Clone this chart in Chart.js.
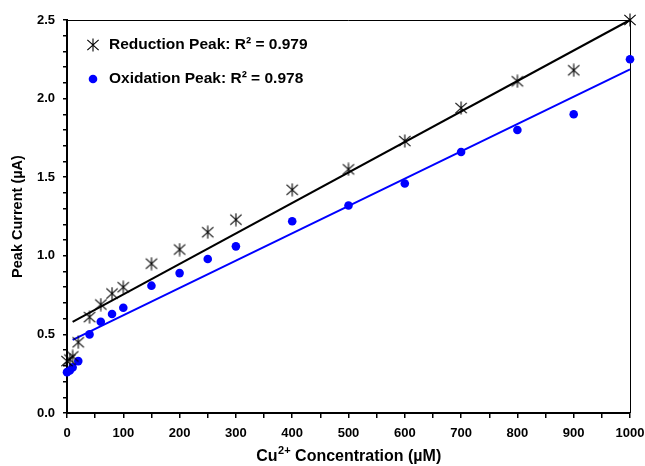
<!DOCTYPE html>
<html>
<head>
<meta charset="utf-8">
<script src="https://cdn.jsdelivr.net/npm/chart.js@4.4.1/dist/chart.umd.min.js"></script>
<style>
  html, body { margin: 0; padding: 0; background: #fff; }
  #wrap { width: 645px; height: 466px; }
</style>
</head>
<body>
<div id="wrap"><canvas id="chart" width="645" height="466"></canvas></div>
<script>
// ------------------- Data -------------------//
var concentrations = [0, 5, 10, 20, 40, 60, 80, 100, 150, 200, 250, 300, 400, 500, 600, 700, 800, 900, 1000];
var reductionPeak = [0.33, 0.34, 0.36, 0.45, 0.61, 0.69, 0.76, 0.80, 0.95, 1.04, 1.15, 1.23, 1.42, 1.55, 1.73, 1.94, 2.11, 2.18, 2.50];
var oxidationPeak = [0.26, 0.27, 0.29, 0.33, 0.50, 0.58, 0.63, 0.67, 0.81, 0.89, 0.98, 1.06, 1.22, 1.32, 1.46, 1.66, 1.80, 1.90, 2.25];

// linear fit end points as drawn on the figure
var fitX = [10, 1000];
var reductionFit = [0.58, 2.50];
var oxidationFit = [0.465, 2.186];

var legendLabels = ['Reduction Peak: R\u00b2 = 0.979', 'Oxidation Peak: R\u00b2 = 0.978'];

function toPoints(xs, ys) {
  return xs.map(function (x, i) { return { x: x, y: ys[i] }; });
}

// six armed asterisk marker
function makeAsterisk(size) {
  var c = document.createElement('canvas');
  c.width = size; c.height = size;
  var g = c.getContext('2d');
  g.strokeStyle = '#000';
  g.lineWidth = 1.1;
  var m = size / 2, r = size / 2 - 0.5;
  g.beginPath();
  g.moveTo(m, m - r); g.lineTo(m, m + r);
  g.moveTo(m - r * 0.87, m - r * 0.8); g.lineTo(m + r * 0.87, m + r * 0.8);
  g.moveTo(m - r * 0.87, m + r * 0.8); g.lineTo(m + r * 0.87, m - r * 0.8);
  g.stroke();
  return c;
}
var asterisk = makeAsterisk(14);

var FONT = "'Liberation Sans', Arial, sans-serif";

// frame, legend and x title (with superscript) drawn on the canvas
var framePlugin = {
  id: 'frame',
  beforeDatasetsDraw: function (chart) {
    var a = chart.chartArea, ctx = chart.ctx;
    ctx.save();
    ctx.strokeStyle = '#000';
    ctx.lineWidth = 1;
    ctx.beginPath();
    ctx.moveTo(a.left, a.top + 0.5);
    ctx.lineTo(a.right + 0.5, a.top + 0.5);
    ctx.lineTo(a.right + 0.5, a.bottom);
    ctx.stroke();
    ctx.restore();
  },
  afterDraw: function (chart) {
    var ctx = chart.ctx, a = chart.chartArea;
    ctx.save();
    ctx.drawImage(asterisk, 93 - 7, 45 - 7);
    ctx.fillStyle = '#0000ff';
    ctx.beginPath();
    ctx.arc(93, 79, 4.3, 0, Math.PI * 2);
    ctx.fill();
    ctx.fillStyle = '#000';
    ctx.font = 'bold 15.5px ' + FONT;
    ctx.textBaseline = 'middle';
    ctx.fillText(legendLabels[0], 109, 45);
    ctx.fillText(legendLabels[1], 109, 79);

    // x axis title: Cu2+ Concentration (uM)
    var big = 'bold 16px ' + FONT, small = 'bold 11px ' + FONT;
    var p1 = 'Cu', p2 = '2+', p3 = ' Concentration (\u00b5M)';
    ctx.font = big;
    var w1 = ctx.measureText(p1).width, w3 = ctx.measureText(p3).width;
    ctx.font = small;
    var w2 = ctx.measureText(p2).width;
    var x = (a.left + a.right) / 2 - (w1 + w2 + w3) / 2;
    var y = 461;
    ctx.textBaseline = 'alphabetic';
    ctx.font = big;
    ctx.fillText(p1, x, y);
    ctx.font = small;
    ctx.fillText(p2, x + w1 + 0.5, y - 7);
    ctx.font = big;
    ctx.fillText(p3, x + w1 + w2 + 0.5, y);
    ctx.restore();
  }
};

var ctx = document.getElementById('chart');
var myChart = new Chart(ctx, {
  type: 'scatter',
  data: {
    datasets: [{
      label: legendLabels[0],
      data: toPoints(concentrations, reductionPeak),
      pointStyle: asterisk,
      pointRadius: 7,
      clip: false
    }, {
      label: legendLabels[1],
      data: toPoints(concentrations, oxidationPeak),
      backgroundColor: '#0000ff',
      borderColor: '#0000ff',
      pointRadius: 4.3,
      pointHoverRadius: 4.3,
      borderWidth: 0,
      clip: false
    }, {
      type: 'line',
      data: toPoints(fitX, reductionFit),
      borderColor: '#000',
      borderWidth: 2,
      pointRadius: 0,
      clip: false
    }, {
      type: 'line',
      data: toPoints(fitX, oxidationFit),
      borderColor: '#0000ff',
      borderWidth: 2,
      pointRadius: 0,
      clip: false
    }]
  },
  options: {
    responsive: false,
    animation: false,
    layout: { padding: { top: 20, right: 0, left: 0, bottom: 0 } },
    plugins: {
      legend: { display: false },
      tooltip: { enabled: false }
    },
    scales: {
      x: {
        type: 'linear',
        min: 0,
        max: 1000,
        afterFit: function (s) { s.height = 53; s.paddingRight = 15; s.paddingLeft = 0; },
        border: { color: '#000', width: 2 },
        grid: { drawOnChartArea: false, drawTicks: true, tickLength: 5, color: '#000', lineWidth: 1.5 },
        ticks: {
          stepSize: 50,
          autoSkip: false,
          maxRotation: 0,
          padding: 8,
          color: '#000',
          font: { family: FONT, size: 13, weight: 'bold' },
          callback: function (v) { return v % 100 === 0 ? String(v) : ''; }
        },
        title: { display: false }
      },
      y: {
        min: 0,
        max: 2.5,
        afterFit: function (s) { s.width = 67; },
        border: { color: '#000', width: 2 },
        grid: { drawOnChartArea: false, drawTicks: true, tickLength: 4, color: '#000', lineWidth: 1.5 },
        ticks: {
          stepSize: 0.1,
          autoSkip: false,
          padding: 8,
          color: '#000',
          font: { family: FONT, size: 13, weight: 'bold' },
          callback: function (v) {
            var r = Math.round(v * 10);
            return r % 5 === 0 ? (r / 10).toFixed(1) : '';
          }
        },
        title: {
          display: true,
          text: 'Peak Current (\u00b5A)',
          color: '#000',
          padding: { top: 9, bottom: 0 },
          font: { family: FONT, size: 14.5, weight: 'bold' }
        }
      }
    }
  },
  plugins: [framePlugin]
});
</script>
</body>
</html>
